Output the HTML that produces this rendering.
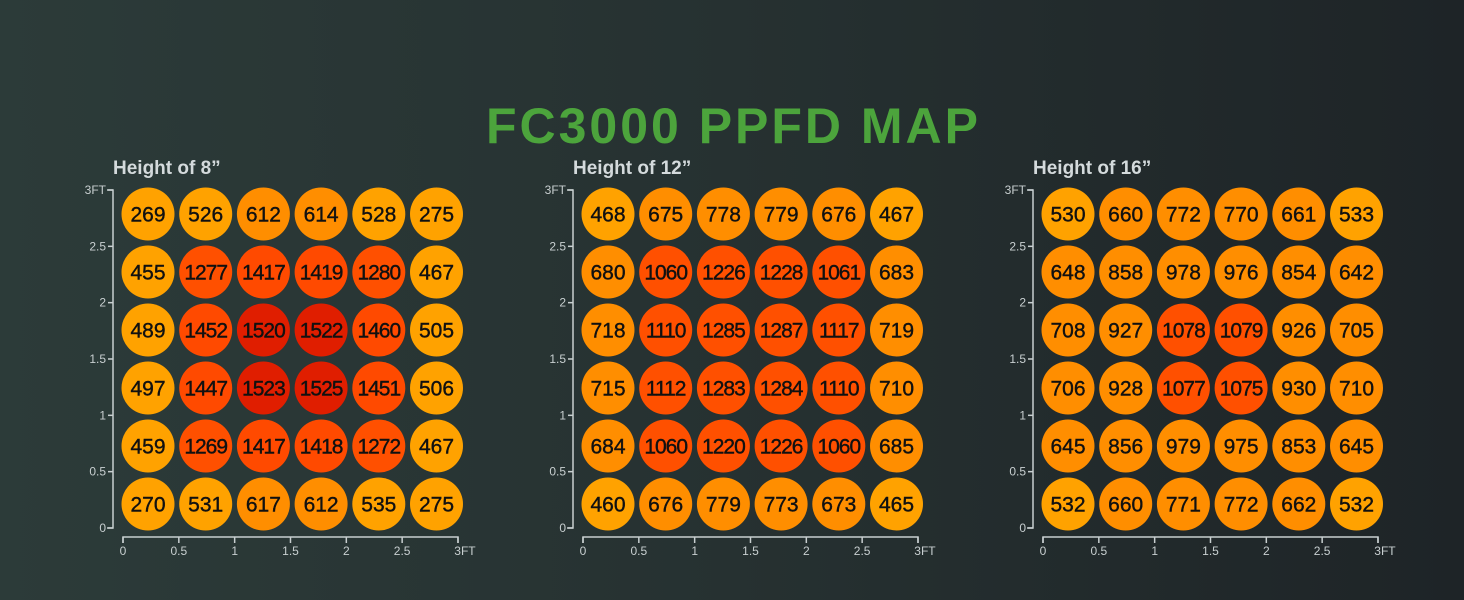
<!DOCTYPE html>
<html><head><meta charset="utf-8"><style>
html,body{margin:0;padding:0;}
body{width:1464px;height:600px;overflow:hidden;background:linear-gradient(90deg,#2c3b39 0%,#263131 50%,#1e2427 100%);}
svg{display:block;font-family:"Liberation Sans",sans-serif;}
</style></head><body>
<svg id="s" width="1464" height="600" xmlns="http://www.w3.org/2000/svg">
<text x="486" y="143" font-size="50" font-weight="bold" fill="#4ca43c" textLength="492" lengthAdjust="spacing">FC3000 PPFD MAP</text>
</svg>
<script>
var data=[
["Height of 8\u201d",[[269,526,612,614,528,275],[455,1277,1417,1419,1280,467],[489,1452,1520,1522,1460,505],[497,1447,1523,1525,1451,506],[459,1269,1417,1418,1272,467],[270,531,617,612,535,275]]],
["Height of 12\u201d",[[468,675,778,779,676,467],[680,1060,1226,1228,1061,683],[718,1110,1285,1287,1117,719],[715,1112,1283,1284,1110,710],[684,1060,1220,1226,1060,685],[460,676,779,773,673,465]]],
["Height of 16\u201d",[[530,660,772,770,661,533],[648,858,978,976,854,642],[708,927,1078,1079,926,705],[706,928,1077,1075,930,710],[645,856,979,975,853,645],[532,660,771,772,662,532]]]
];
function col(v){if(v<560)return"#ffa200";if(v<1000)return"#ff8e00";if(v<1400)return"#ff5000";if(v<1500)return"#ff4a00";return"#e01e00";}
var h="";
data.forEach(function(p,k){
 var o=k*460;var ax=113+o;
 h+='<text x="'+(113+o)+'" y="174" font-size="19" font-weight="bold" fill="#d4dadc">'+p[0]+'</text>';
 h+='<path d="M'+(ax-6)+' 190H'+ax+'V528H'+(ax-6)+'" stroke="#c8cfd0" stroke-width="1.5" fill="none"/>';
 var yl=["3FT","2.5","2","1.5","1","0.5","0"];
 for(var i=0;i<7;i++){var y=190+i*56.33;h+='<line x1="'+(ax-5)+'" y1="'+y+'" x2="'+ax+'" y2="'+y+'" stroke="#c8cfd0" stroke-width="1.5"/>';
  h+='<text x="'+(ax-7)+'" y="'+(y+4)+'" font-size="12" fill="#c8cfd0" text-anchor="end">'+yl[i]+'</text>';}
 var x0=123+o;
 h+='<path d="M'+x0+' 543V537H'+(x0+335)+'V543" stroke="#c8cfd0" stroke-width="1.5" fill="none"/>';
 var xl=["0","0.5","1","1.5","2","2.5","3FT"];
 for(var i=0;i<7;i++){var x=x0+i*55.83;h+='<line x1="'+x+'" y1="537" x2="'+x+'" y2="543" stroke="#c8cfd0" stroke-width="1.5"/>';
  h+='<text x="'+(i==6?x+7:x)+'" y="555" font-size="12" fill="#c8cfd0" text-anchor="middle">'+xl[i]+'</text>';}
 p[1].forEach(function(row,r){row.forEach(function(v,c){
  var cx=148+o+c*57.7, cy=214+r*58;
  h+='<circle cx="'+cx+'" cy="'+cy+'" r="26.5" fill="'+col(v)+'"/>';
  h+='<text x="'+cx+'" y="'+(cy+7.5)+'" font-size="21" fill="#111" stroke="#111" stroke-width="0.4" text-anchor="middle"'+(v>999?' letter-spacing="-1"':'')+'>'+v+'</text>';
 });});
});
document.getElementById('s').insertAdjacentHTML('beforeend',h);
</script>
</body></html>
